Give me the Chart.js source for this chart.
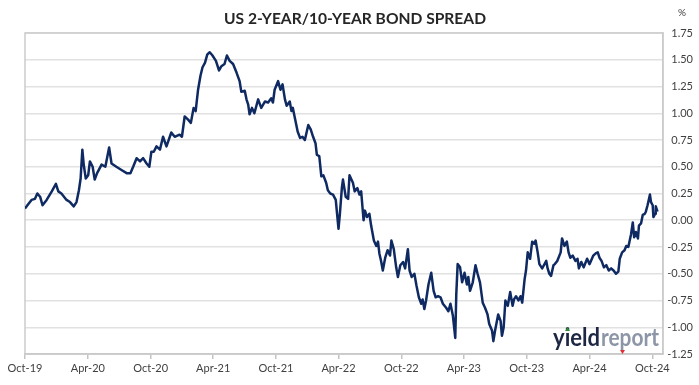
<!DOCTYPE html>
<html>
<head>
<meta charset="utf-8">
<script src="https://cdn.jsdelivr.net/npm/chart.js@4.4.1/dist/chart.umd.min.js"></script>
<style>
html, body { margin: 0; padding: 0; background: #fff; }
</style>
</head>
<body>
<canvas id="chart" width="699" height="385"></canvas>
<script>
// spread readings (%), one per date
var dates = [
	'2019-10-01','2019-10-08','2019-10-20','2019-10-30','2019-11-06','2019-11-14','2019-11-21','2019-12-03','2019-12-18','2019-12-30',
	'2020-01-06','2020-01-15','2020-01-30','2020-02-09','2020-02-20','2020-02-28','2020-03-06','2020-03-11','2020-03-16','2020-03-20',
	'2020-03-26','2020-04-02','2020-04-07','2020-04-15','2020-04-21','2020-04-28','2020-05-11','2020-05-22','2020-06-02','2020-06-09',
	'2020-06-23','2020-07-08','2020-07-23','2020-08-03','2020-08-11','2020-08-21','2020-08-31','2020-09-09','2020-09-19','2020-09-27',
	'2020-10-03','2020-10-10','2020-10-18','2020-10-28','2020-11-06','2020-11-16','2020-11-30','2020-12-10','2020-12-24','2020-12-31',
	'2021-01-08','2021-01-18','2021-01-26','2021-02-03','2021-02-09','2021-02-16','2021-02-23','2021-03-01','2021-03-08','2021-03-15',
	'2021-03-22','2021-03-30','2021-04-09','2021-04-18','2021-04-25','2021-05-04','2021-05-11','2021-05-19','2021-05-29','2021-06-08',
	'2021-06-17','2021-06-22','2021-07-02','2021-07-07','2021-07-12','2021-07-16','2021-07-23','2021-07-30','2021-08-10','2021-08-19',
	'2021-08-30','2021-09-08','2021-09-17','2021-09-22','2021-09-27','2021-10-07','2021-10-14','2021-10-20','2021-10-27','2021-11-01',
	'2021-11-10','2021-11-15','2021-11-19','2021-11-26','2021-12-03','2021-12-10','2021-12-17','2021-12-24','2022-01-03','2022-01-10',
	'2022-01-17','2022-01-24','2022-01-28','2022-02-04','2022-02-10','2022-02-16','2022-02-24','2022-03-01','2022-03-08','2022-03-16',
	'2022-03-24','2022-04-01','2022-04-05','2022-04-11','2022-04-14','2022-04-22','2022-04-29','2022-05-03','2022-05-13','2022-05-18',
	'2022-05-26','2022-06-01','2022-06-06','2022-06-13','2022-06-17','2022-06-23','2022-06-30','2022-07-05','2022-07-13','2022-07-20',
	'2022-07-25','2022-07-29','2022-08-03','2022-08-08','2022-08-15','2022-08-22','2022-08-29','2022-09-02','2022-09-09','2022-09-16',
	'2022-09-21','2022-09-28','2022-10-06','2022-10-12','2022-10-20','2022-10-25','2022-10-31','2022-11-08','2022-11-14','2022-11-21',
	'2022-11-28','2022-12-02','2022-12-07','2022-12-12','2022-12-19','2022-12-27','2023-01-03','2023-01-09','2023-01-16','2023-01-23',
	'2023-01-30','2023-02-09','2023-02-15','2023-02-21','2023-02-28','2023-03-07','2023-03-10','2023-03-14','2023-03-21','2023-03-27',
	'2023-04-03','2023-04-10','2023-04-14','2023-04-19','2023-04-27','2023-05-05','2023-05-11','2023-05-18','2023-05-26','2023-06-02',
	'2023-06-09','2023-06-14','2023-06-22','2023-06-26','2023-07-01','2023-07-10','2023-07-17','2023-07-21','2023-07-26','2023-07-31',
	'2023-08-07','2023-08-14','2023-08-21','2023-08-25','2023-08-31','2023-09-07','2023-09-13','2023-09-18','2023-09-25','2023-09-29',
	'2023-10-04','2023-10-11','2023-10-17','2023-10-23','2023-10-27','2023-11-02','2023-11-07','2023-11-15','2023-11-22','2023-11-27',
	'2023-12-01','2023-12-06','2023-12-11','2023-12-18','2023-12-22','2023-12-29','2024-01-08','2024-01-12','2024-01-19','2024-01-26',
	'2024-01-31','2024-02-05','2024-02-12','2024-02-20','2024-02-26','2024-03-01','2024-03-08','2024-03-15','2024-03-25','2024-04-01',
	'2024-04-08','2024-04-12','2024-04-19','2024-04-25','2024-04-30','2024-05-06','2024-05-13','2024-05-20','2024-05-27','2024-06-03',
	'2024-06-10','2024-06-17','2024-06-24','2024-06-28','2024-07-05','2024-07-12','2024-07-17','2024-07-23','2024-07-31','2024-08-05',
	'2024-08-09','2024-08-14','2024-08-20','2024-08-23','2024-08-29','2024-09-03','2024-09-09','2024-09-12','2024-09-17','2024-09-24',
	'2024-09-27','2024-10-02','2024-10-04','2024-10-09','2024-10-11','2024-10-16'
];
var spread = [
	0.11, 0.14, 0.19, 0.20, 0.25, 0.22, 0.14, 0.19, 0.27, 0.34,
	0.27, 0.25, 0.19, 0.17, 0.13, 0.17, 0.28, 0.39, 0.66, 0.52,
	0.39, 0.42, 0.55, 0.50, 0.38, 0.44, 0.52, 0.50, 0.68, 0.53,
	0.50, 0.47, 0.44, 0.44, 0.50, 0.58, 0.55, 0.58, 0.53, 0.50,
	0.64, 0.64, 0.69, 0.66, 0.78, 0.69, 0.82, 0.78, 0.80, 0.78,
	0.97, 0.94, 0.91, 1.05, 1.02, 1.22, 1.35, 1.43, 1.47, 1.55,
	1.57, 1.54, 1.49, 1.40, 1.44, 1.46, 1.54, 1.49, 1.46, 1.38,
	1.30, 1.20, 1.21, 1.13, 1.08, 0.99, 1.05, 1.00, 1.13, 1.05,
	1.11, 1.10, 1.14, 1.10, 1.22, 1.30, 1.22, 1.27, 1.13, 1.07,
	1.11, 1.02, 1.05, 0.94, 0.83, 0.77, 0.78, 0.75, 0.89, 0.85,
	0.78, 0.72, 0.61, 0.60, 0.41, 0.42, 0.35, 0.28, 0.25, 0.24,
	0.19, -0.08, 0.06, 0.31, 0.38, 0.22, 0.20, 0.42, 0.35, 0.27,
	0.30, 0.24, 0.27, 0.00, 0.09, 0.03, 0.06, -0.05, -0.19, -0.24,
	-0.20, -0.31, -0.38, -0.47, -0.35, -0.28, -0.33, -0.19, -0.27, -0.44,
	-0.53, -0.42, -0.39, -0.45, -0.27, -0.47, -0.53, -0.50, -0.61, -0.72,
	-0.78, -0.74, -0.83, -0.75, -0.60, -0.49, -0.66, -0.72, -0.71, -0.72,
	-0.78, -0.82, -0.85, -0.78, -0.89, -1.10, -0.69, -0.41, -0.44, -0.58,
	-0.49, -0.60, -0.53, -0.66, -0.58, -0.42, -0.50, -0.58, -0.77, -0.82,
	-0.88, -0.97, -1.03, -1.13, -1.03, -0.88, -0.94, -1.08, -1.00, -0.75,
	-0.80, -0.67, -0.80, -0.74, -0.71, -0.75, -0.71, -0.77, -0.55, -0.47,
	-0.30, -0.36, -0.20, -0.22, -0.19, -0.30, -0.41, -0.45, -0.41, -0.38,
	-0.45, -0.50, -0.52, -0.42, -0.41, -0.38, -0.30, -0.17, -0.24, -0.20,
	-0.30, -0.35, -0.33, -0.38, -0.36, -0.45, -0.39, -0.44, -0.36, -0.41,
	-0.36, -0.33, -0.31, -0.30, -0.35, -0.38, -0.44, -0.42, -0.47, -0.45,
	-0.47, -0.50, -0.48, -0.36, -0.30, -0.28, -0.24, -0.25, -0.13, -0.02,
	-0.16, -0.11, -0.17, -0.05, -0.03, 0.05, 0.06, 0.08, 0.14, 0.24,
	0.17, 0.14, 0.03, 0.06, 0.13, 0.08
];
var tickDates = ['2019-10-01','2020-04-01','2020-10-01','2021-04-01','2021-10-01','2022-04-01',
	'2022-10-01','2023-04-01','2023-10-01','2024-04-01','2024-10-01'];
var tickLabels = ['Oct-19','Apr-20','Oct-20','Apr-21','Oct-21','Apr-22',
	'Oct-22','Apr-23','Oct-23','Apr-24','Oct-24'];
var startDate = '2019-10-01', endDate = '2024-11-01';

function dayOf(d) {
	return (Date.parse(d) - Date.parse(startDate)) / 86400000;
}
var tickDays = tickDates.map(dayOf);
var points = dates.map(function (d, i) { return { x: dayOf(d), y: spread[i] }; });

var decor = {
	id: 'decor',
	beforeDatasetsDraw: function (c) {
		var a = c.chartArea, ctx = c.ctx;
		ctx.save();
		ctx.strokeStyle = '#cbcbcb';
		ctx.lineWidth = 1.5;
		ctx.strokeRect(a.left, a.top, a.right - a.left, a.bottom - a.top);
		ctx.restore();
	},
	afterDraw: function (c) {
		var ctx = c.ctx;
		ctx.save();
		// title
		ctx.fillStyle = '#262626';
		ctx.font = 'bold 16px Lato';
		ctx.textAlign = 'center';
		ctx.textBaseline = 'alphabetic';
		ctx.fillText('US 2-YEAR/10-YEAR BOND SPREAD', 355, 24, 262);
		// unit
		ctx.font = '10px Lato';
		ctx.fillStyle = '#404040';
		ctx.fillText('%', 682, 16);
		// watermark
		ctx.textAlign = 'left';
		ctx.font = 'bold 24px Lato';
		ctx.fillStyle = '#1d2744';
		ctx.fillText('yield', 553, 346, 47);
		ctx.fillStyle = '#8d96a6';
		ctx.fillText('report', 601, 346, 58);
		ctx.fillStyle = '#2e8b3a';
		ctx.beginPath();
		ctx.moveTo(565, 331); ctx.lineTo(570, 331); ctx.lineTo(567.5, 327);
		ctx.fill();
		ctx.fillStyle = '#e03030';
		ctx.beginPath();
		ctx.moveTo(620, 350); ctx.lineTo(625, 350); ctx.lineTo(622.5, 354);
		ctx.fill();
		ctx.restore();
	}
};

var chart = new Chart(document.getElementById('chart').getContext('2d'), {
	type: 'line',
	data: {
		datasets: [{
			label: 'US 2-Year/10-Year Spread',
			data: points,
			borderColor: '#0f2a62',
			borderWidth: 2.5,
			borderJoinStyle: 'round',
			pointRadius: 0,
			tension: 0,
			fill: false
		}]
	},
	options: {
		responsive: false,
		animation: false,
		layout: { padding: { left: 25, right: 6, top: 33, bottom: 0 } },
		plugins: {
			legend: { display: false },
			tooltip: { enabled: false }
		},
		scales: {
			x: {
				type: 'linear',
				min: 0,
				max: dayOf(endDate),
				afterBuildTicks: function (axis) {
					axis.ticks = tickDays.map(function (v) { return { value: v }; });
				},
				afterFit: function (s) { s.height = 31; },
				grid: { drawOnChartArea: false, drawTicks: true, tickLength: 5, color: '#c4c4c4', lineWidth: 1.5 },
				border: { display: true, color: '#c4c4c4', width: 1.5 },
				ticks: {
					autoSkip: false,
					maxRotation: 0,
					padding: 3,
					color: '#404040',
					font: { family: 'Lato', size: 11 },
					callback: function (v) {
						var i = tickDays.indexOf(v);
						return i < 0 ? '' : tickLabels[i];
					}
				}
			},
			y: {
				position: 'right',
				min: -1.25,
				max: 1.75,
				afterFit: function (s) { s.width = 30; },
				grid: { color: '#e1e1e1', lineWidth: 1.5, drawTicks: false },
				border: { display: true, color: '#cbcbcb', width: 1.5 },
				ticks: {
					stepSize: 0.25,
					padding: 5,
					crossAlign: 'far',
					color: '#404040',
					font: { family: 'Lato', size: 11 },
					callback: function (v) { return v.toFixed(2); }
				}
			}
		}
	},
	plugins: [decor]
});
</script>
</body>
</html>
